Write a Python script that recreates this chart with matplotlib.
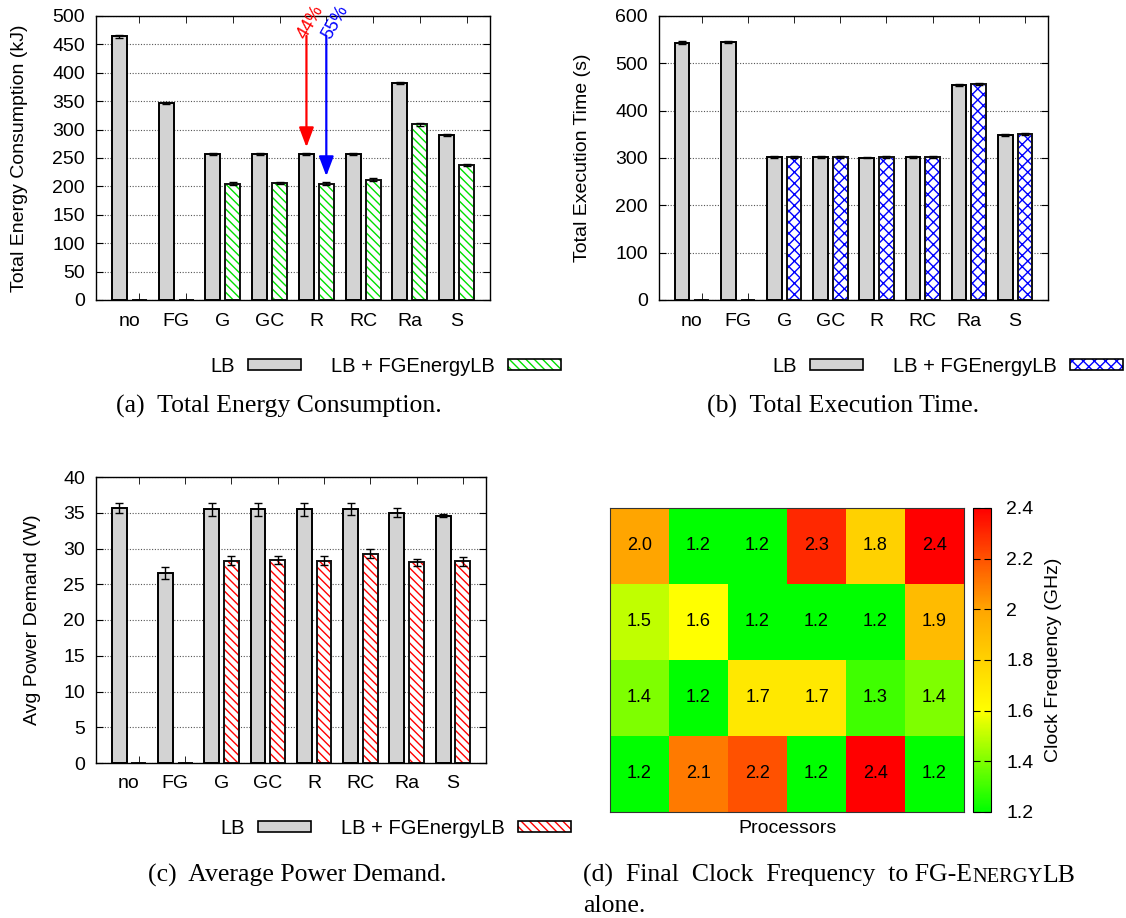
import matplotlib

matplotlib.use('Agg')
import matplotlib.pyplot as plt
import numpy as np
from matplotlib.colors import LinearSegmentedColormap
from matplotlib.patches import Patch

CATEGORIES = ['no', 'FG', 'G', 'GC', 'R', 'RC', 'Ra', 'S']

ENERGY_LB = [464, 347, 257, 257, 257, 257, 382, 290]
ENERGY_LB_ERR = [2, 2, 2, 2, 2, 2, 2, 2]
ENERGY_FGE = [0, 0, 205, 206, 205, 212, 309, 238]
ENERGY_FGE_ERR = [0, 0, 2, 2, 2, 2, 2, 2]

TIME_LB = [544, 545, 302, 302, 301, 302, 455, 349]
TIME_LB_ERR = [3, 2, 3, 3, 2, 2, 2, 2]
TIME_FGE = [0, 0, 302, 302, 302, 302, 457, 351]
TIME_FGE_ERR = [0, 0, 2, 2, 2, 2, 2, 2]

POWER_LB = [35.6, 26.6, 35.5, 35.5, 35.5, 35.5, 35.0, 34.6]
POWER_LB_ERR = [0.7, 0.8, 0.9, 0.9, 0.9, 0.8, 0.6, 0.2]
POWER_FGE = [0, 0, 28.3, 28.4, 28.3, 29.3, 28.1, 28.2]
POWER_FGE_ERR = [0, 0, 0.6, 0.5, 0.6, 0.6, 0.5, 0.6]

FREQ = [
    [2.0, 1.2, 1.2, 2.3, 1.8, 2.4],
    [1.5, 1.6, 1.2, 1.2, 1.2, 1.9],
    [1.4, 1.2, 1.7, 1.7, 1.3, 1.4],
    [1.2, 2.1, 2.2, 1.2, 2.4, 1.2],
]
FREQ_TICKS = [1.2, 1.4, 1.6, 1.8, 2.0, 2.2, 2.4]
FREQ_TICK_LABELS = ['1.2', '1.4', '1.6', '1.8', '2', '2.2', '2.4']

W, H = 1126, 918
SANS = 'Liberation Sans'
SERIF = 'Liberation Serif'
GRAY = '#d3d3d3'
BAR_W = 0.32
OFFSET = 0.2125
FS = 14

plt.rcParams['font.family'] = SANS
plt.rcParams['hatch.linewidth'] = 1.0

fig = plt.figure(figsize=(W / 100, H / 100), dpi=100)


def px_axes(left, top, right, bottom):
    return fig.add_axes([left / W, 1 - bottom / H, (right - left) / W, (bottom - top) / H])


def bar_panel(ax, lb, lb_err, fge, fge_err, ymax, ystep, ylabel, hatch, hatch_color, label_x):
    x = np.arange(len(CATEGORIES))
    ax.set_axisbelow(True)
    ax.grid(True, axis='y', linestyle=(0, (1, 1.5)), color='#555555', linewidth=0.8)
    ax.bar(x - OFFSET, lb, BAR_W, color=GRAY, edgecolor='black', linewidth=1.4)
    ax.bar(x + OFFSET, fge, BAR_W, color='white', edgecolor=hatch_color, hatch=hatch, linewidth=0)
    ax.bar(x + OFFSET, fge, BAR_W, fill=False, edgecolor='#111111', linewidth=1.4)
    ax.errorbar(x - OFFSET, lb, yerr=lb_err, fmt='none', ecolor='black', elinewidth=1, capsize=3)
    ax.errorbar(x + OFFSET, fge, yerr=fge_err, fmt='none', ecolor='black', elinewidth=1, capsize=3)
    ax.set_xlim(-0.713, 7.713)
    ax.set_ylim(0, ymax)
    ax.set_yticks(np.arange(0, ymax + ystep / 2, ystep))
    ax.set_xticks(x)
    ax.set_xticklabels(CATEGORIES)
    ax.set_xticks(x + OFFSET, minor=True)
    ax.tick_params(axis='x', which='major', length=0, pad=9, labelsize=FS)
    ax.tick_params(axis='x', which='minor', direction='in', length=5, top=True, bottom=True)
    ax.tick_params(axis='y', direction='in', length=5, left=True, right=True, labelsize=FS, pad=8)
    ax.set_ylabel(ylabel, fontsize=FS)
    ax.yaxis.set_label_coords(label_x, 0.5)
    for spine in ax.spines.values():
        spine.set_linewidth(1.0)


def bar_legend(ax, hatch, hatch_color, cx, cy):
    handles = [
        Patch(facecolor=GRAY, edgecolor='black', linewidth=1.2),
        (Patch(facecolor='white', edgecolor=hatch_color, hatch=hatch, linewidth=0),
         Patch(fill=False, edgecolor='black', linewidth=1.2)),
    ]
    ax.legend(handles, ['LB', 'LB + FGEnergyLB'], ncol=2, markerfirst=False, frameon=False,
              fontsize=14.5, handlelength=2.63, handleheight=0.5, handletextpad=0.65,
              columnspacing=1.5, loc='center', bbox_to_anchor=(cx / W, 1 - cy / H),
              bbox_transform=fig.transFigure)


# (a) energy
ax_a = px_axes(96, 16, 490, 300)
bar_panel(ax_a, ENERGY_LB, ENERGY_LB_ERR, ENERGY_FGE, ENERGY_FGE_ERR, 500, 50,
          'Total Energy Consumption (kJ)', '\\\\\\\\', '#00e000', -0.173)
bar_legend(ax_a, '\\\\\\\\', '#00e000', 386, 366)
ax_a.annotate('', xy=(4 - OFFSET, 269), xytext=(4 - OFFSET, 465),
              arrowprops=dict(arrowstyle='-|>,head_length=1.2,head_width=0.45', color='red',
                              lw=1.6, shrinkA=0, shrinkB=0))
ax_a.annotate('', xy=(4 + OFFSET, 218), xytext=(4 + OFFSET, 465),
              arrowprops=dict(arrowstyle='-|>,head_length=1.2,head_width=0.45', color='blue',
                              lw=1.6, shrinkA=0, shrinkB=0))
ax_a.text(3.88, 489, '44%', color='red', rotation=60, fontsize=13, ha='center', va='center',
          clip_on=False)
ax_a.text(4.415, 489, '55%', color='blue', rotation=60, fontsize=13, ha='center', va='center',
          clip_on=False)

# (b) execution time
ax_b = px_axes(659, 16, 1048, 300)
bar_panel(ax_b, TIME_LB, TIME_LB_ERR, TIME_FGE, TIME_FGE_ERR, 600, 100,
          'Total Execution Time (s)', 'xxx', '#0000ff', -0.175)
bar_legend(ax_b, 'xxx', '#0000ff', 948, 366)

# (c) power
ax_c = px_axes(96, 477, 486, 763)
bar_panel(ax_c, POWER_LB, POWER_LB_ERR, POWER_FGE, POWER_FGE_ERR, 40, 5,
          'Avg Power Demand (W)', '\\\\\\\\', '#ff0000', -0.141)
bar_legend(ax_c, '\\\\\\\\', '#ff0000', 396, 828)

# (d) heatmap
cmap = LinearSegmentedColormap.from_list(
    'freq', [(0.0, '#00ff00'), (1 / 3, '#ffff00'), (2 / 3, '#ffa500'), (1.0, '#ff0000')])
ax_d = px_axes(610, 508, 964, 812)
freq = np.array(FREQ)
im = ax_d.imshow(freq, cmap=cmap, vmin=1.2, vmax=2.4, aspect='auto', interpolation='nearest')
for r in range(freq.shape[0]):
    for c in range(freq.shape[1]):
        ax_d.text(c, r, f'{freq[r, c]:.1f}', ha='center', va='center', fontsize=13)
ax_d.set_xticks([])
ax_d.set_yticks([])
ax_d.set_xlabel('Processors', fontsize=FS, labelpad=6)
for spine in ax_d.spines.values():
    spine.set_linewidth(0.8)
    spine.set_color('#333333')

cax = px_axes(973, 508, 991, 812)
cb = fig.colorbar(im, cax=cax, ticks=FREQ_TICKS)
cb.ax.set_yticklabels(FREQ_TICK_LABELS)
cax.tick_params(direction='in', left=True, right=True, length=5, labelsize=FS, pad=11)
cb.outline.set_linewidth(0.8)
cb.set_label('Clock Frequency (GHz)', fontsize=FS, labelpad=8)

# captions
CAP_FS = 18.5
cap = dict(family=SERIF, fontsize=CAP_FS, va='baseline')
fig.text(279 / W, 1 - 413 / H, '(a)  Total Energy Consumption.', ha='center', **cap)
fig.text(843 / W, 1 - 413 / H, '(b)  Total Execution Time.', ha='center', **cap)
fig.text(297 / W, 1 - 882 / H, '(c)  Average Power Demand.', ha='center', **cap)

renderer = fig.canvas.get_renderer()
x_pos = 583 / W
for piece, size in [('(d)  Final  Clock  Frequency  to FG-E', CAP_FS), ('NERGY', CAP_FS * 0.8),
                    ('LB', CAP_FS)]:
    t = fig.text(x_pos, 1 - 882 / H, piece, family=SERIF, fontsize=size, va='baseline')
    x_pos = t.get_window_extent(renderer).x1 / fig.bbox.width
fig.text(583 / W, 1 - 912 / H, 'alone.', ha='left', **cap)

fig.savefig('out.png', dpi=100)
